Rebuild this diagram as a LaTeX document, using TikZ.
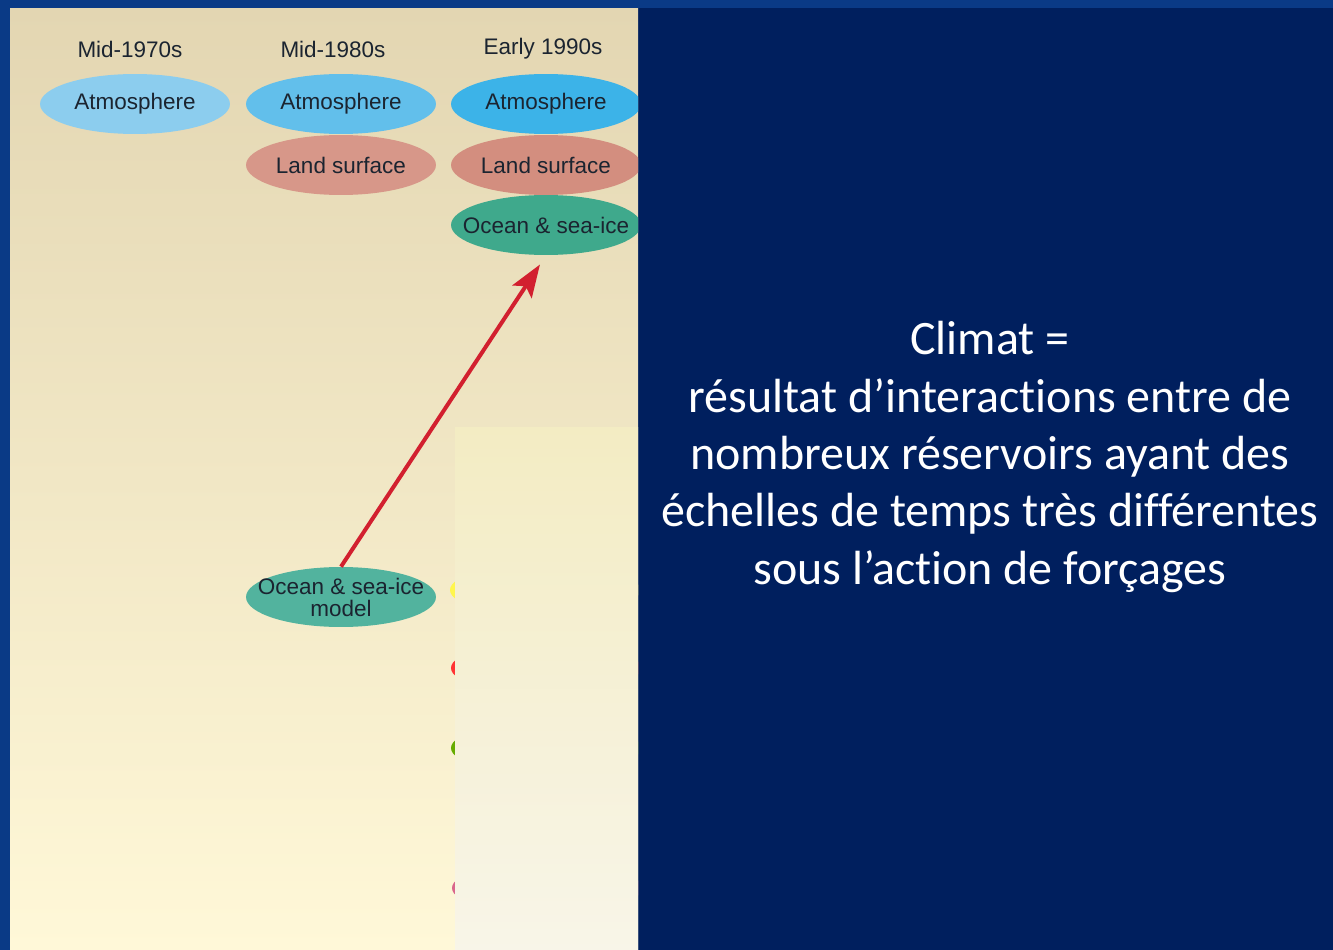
\documentclass[tikz,border=0pt]{standalone}
\usepackage{fontspec}
\newfontfamily\arialfont{Liberation Sans}
\newfontfamily\calibfont[Ligatures=NoCommon]{Carlito}
\usetikzlibrary{shapes.geometric,arrows.meta}

\begin{document}
\begin{tikzpicture}[x=0.02cm, y=-0.02cm]
  \definecolor{frameblue}{HTML}{0A3A86}
  \definecolor{navy}{HTML}{001F5E}
  \definecolor{paneltop}{HTML}{E3D6B2}
  \definecolor{panelbot}{HTML}{FFF8D8}
  \definecolor{overtop}{HTML}{F3ECC3}
  \definecolor{overbot}{HTML}{F8F5E8}
  \definecolor{atmA}{HTML}{8CCDEE}
  \definecolor{atmB}{HTML}{62BFEB}
  \definecolor{atmC}{HTML}{3CB3E8}
  \definecolor{landc}{HTML}{D38E7F}
  \definecolor{oceanc}{HTML}{3FA98C}
  \definecolor{modelc}{HTML}{52B39E}
  \definecolor{arrowred}{HTML}{D2202F}
  \definecolor{inktext}{HTML}{1B2430}
  \tikzstyle{comp}=[ellipse, minimum width=3.8cm, minimum height=1.2cm, inner xsep=-0.5cm, inner ysep=-0.12cm,
      font=\arialfont\fontsize{12.8}{13.5}\selectfont, text=inktext, align=center]
  \tikzstyle{era}=[font=\arialfont\fontsize{12.8}{13.5}\selectfont, text=inktext]

  % frame and panels
  \fill[frameblue] (0,0) rectangle (1333,950);
  \fill[navy] (638,8) rectangle (1333,950);
  \shade[top color=paneltop, bottom color=panelbot] (10,8) rectangle (638,950);
  \useasboundingbox (0,0) rectangle (1333,950);

  \begin{scope}
  \clip (10,8) rectangle (638,950);
  % hidden rows behind the overlay
  \fill[yellow!70!white] (545,590) ellipse (95 and 26);
  \fill[red!80!white] (546,668) ellipse (95 and 26);
  \fill[green!45!black!60!yellow] (546,748) ellipse (95 and 26);
  \fill[purple!60!white] (547,888) ellipse (95 and 26);

  \node[era] (y70) at (130,49) {Mid-1970s};
  \node[era] (y80) at (333,49) {Mid-1980s};
  \node[era] (y90) at (543,49) {Early 1990s};

  \node[comp, fill=atmA] (atm70) at (135,104) {Atmosphere};
  \node[comp, fill=atmB] (atm80) at (341,104) {Atmosphere};
  \node[comp, fill=landc!92!white] (land80) at (341,165) {Land surface};
  \node[comp, fill=atmC] (atm90) at (546,104) {Atmosphere};
  \node[comp, fill=landc] (land90) at (546,165) {Land surface};
  \node[comp, fill=oceanc] (ocean90) at (546,225) {Ocean \& sea-ice};
  \node[comp, fill=modelc] (model) at (341,597) {Ocean \& sea-ice\\[-1pt] model};
  \end{scope}

  \draw[arrowred, line width=0.08cm, shorten >=0.22cm, -{Stealth[length=0.65cm, width=0.46cm, inset=0.13cm]}]
    (model.north) -- (ocean90.south);

  % overlay
  \shade[top color=overtop, bottom color=overbot] (455,427) rectangle (638,950);

  \node[font=\calibfont\fontsize{27.3}{32.7}\selectfont, text=white, align=center] (climat) at (990,457)
    {Climat =\\ résultat d’interactions entre de\\ nombreux réservoirs ayant des\\
     échelles de temps très différentes\\ sous l’action de forçages};
\end{tikzpicture}
\end{document}
